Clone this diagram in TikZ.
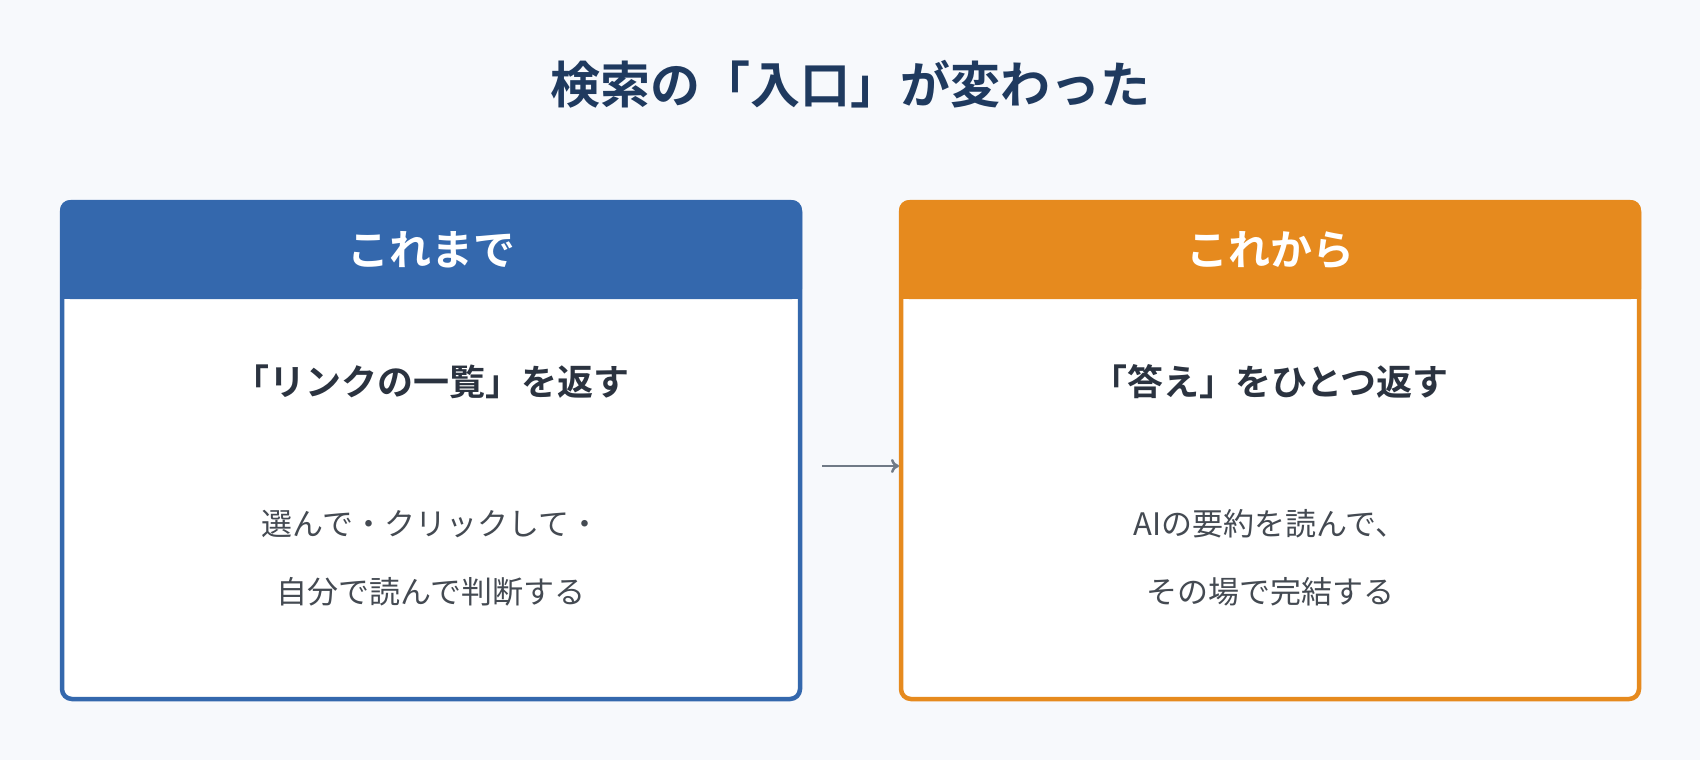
\documentclass[tikz,border=0pt]{standalone}
\usetikzlibrary{arrows.meta}
\usepackage{fontspec}
\setmainfont{Noto Sans CJK JP}
\newfontfamily\jpb{Noto Sans CJK JP Bold}
\definecolor{bg}{HTML}{F7F9FC}
\definecolor{cblue}{HTML}{3468AD}
\definecolor{corange}{HTML}{E68A1E}
\definecolor{ctitle}{HTML}{1F3A5F}
\definecolor{cdark}{HTML}{2B3340}
\definecolor{cbody}{HTML}{444A52}
\definecolor{carrow}{HTML}{707A86}
\begin{document}
\begin{tikzpicture}[x=1pt,y=-1pt,
  box/.style={line width=4.5pt,rounded corners=10pt,fill=white},
  head/.style={font=\jpb\fontsize{42}{50}\selectfont,text=white},
  sub/.style={font=\jpb\fontsize{36}{44}\selectfont,text=cdark},
  body/.style={font=\fontsize{31}{68}\selectfont,text=cbody,align=center}]
\fill[bg] (0,0) rectangle (1700,760);
\useasboundingbox (0,0) rectangle (1700,760);
\node[font=\jpb\fontsize{50}{60}\selectfont,text=ctitle] (title) at (850,84) {検索の「入口」が変わった};
% left
\draw[box,draw=cblue] (62,202) rectangle (800,699);
\fill[cblue,rounded corners=10pt] (60,200) rectangle (802,299);
\fill[cblue] (60,260) rectangle (802,299);
\node[head] (lh) at (431,250) {これまで};
\node[sub] (ls) at (431,382) {「リンクの一覧」を返す};
\node[body] (lb) at (431,558) {選んで・クリックして・\\自分で読んで判断する};
% right
\draw[box,draw=corange] (901,202) rectangle (1639,699);
\fill[corange,rounded corners=10pt] (899,200) rectangle (1641,299);
\fill[corange] (899,260) rectangle (1641,299);
\node[head] (rh) at (1270,250) {これから};
\node[sub] (rs) at (1270,382) {「答え」をひとつ返す};
\node[body] (rb) at (1270,558) {AIの要約を読んで、\\その場で完結する};
\coordinate (a1) at (822,466);
\coordinate (a2) at (899,466);
\draw[carrow,line width=2.5pt,-{To[length=8pt,width=14pt]}] (a1) -- (a2);
\end{tikzpicture}
\end{document}
